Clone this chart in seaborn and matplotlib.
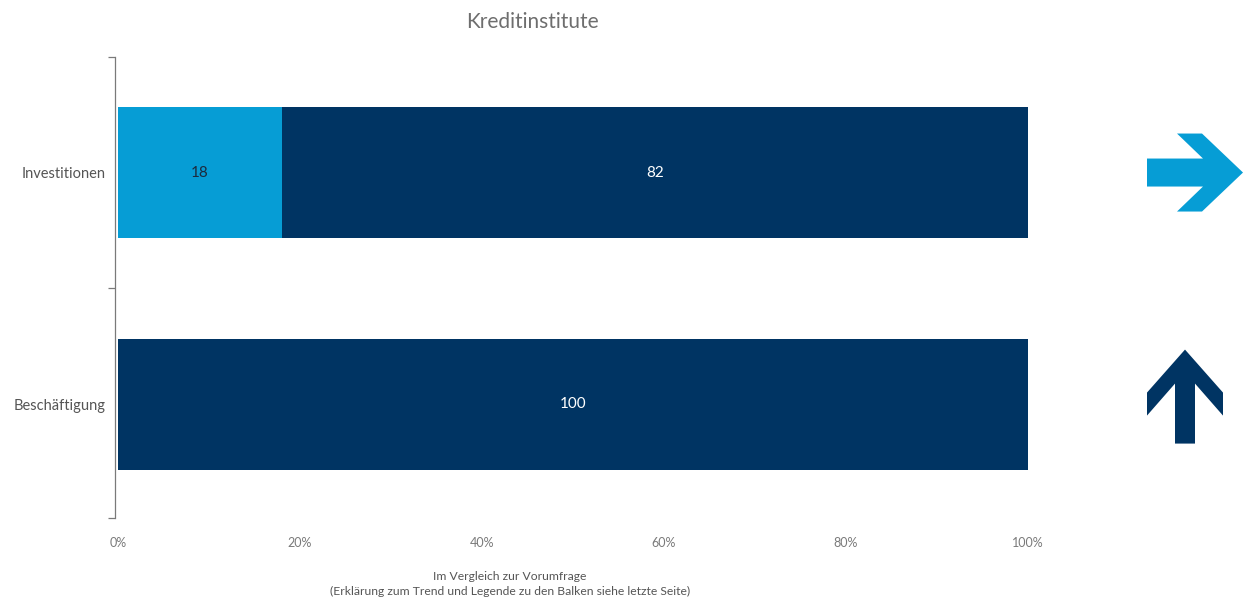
import matplotlib
matplotlib.use("Agg")
import matplotlib.pyplot as plt
import matplotlib.transforms as mtransforms
from matplotlib.patches import Polygon
from matplotlib.ticker import FixedLocator, FuncFormatter, NullFormatter
import seaborn as sns
import pandas as pd

# Data
categories = ["Investitionen", "Beschäftigung"]
light_share = [18, 0]
dark_share = [82, 100]
trend = ["right", "up"]
x_ticks = [0, 20, 40, 60, 80, 100]

LIGHT = "#069DD5"
DARK = "#003463"
GREY = "#7a7a7a"

sns.set_theme(style="white")
plt.rcParams["font.family"] = ["Lato", "DejaVu Sans"]

df = pd.DataFrame({
    "cat": categories,
    "light": light_share,
    "dark": dark_share,
})
df["total"] = df["light"] + df["dark"]

fig = plt.figure(figsize=(12.52, 6.06), dpi=100)
ax = fig.add_axes([118 / 1252, 1 - 518 / 606, 910 / 1252, 461 / 606])

bar_w = 0.566
sns.barplot(data=df, y="cat", x="total", orient="h", color=DARK,
            width=bar_w, saturation=1, ax=ax, order=categories, linewidth=0)
sns.barplot(data=df, y="cat", x="light", orient="h", color=LIGHT,
            width=bar_w, saturation=1, ax=ax, order=categories, linewidth=0)

# Segment values
for i, (lv, dv) in enumerate(zip(light_share, dark_share)):
    if lv > 0:
        ax.text(lv / 2, i, f"{lv}", ha="center", va="center",
                color="#1c2b3e", fontsize=11)
    if dv > 0:
        ax.text(lv + dv / 2, i, f"{dv}", ha="center", va="center",
                color="white", fontsize=11)

y_lo, y_hi = -0.499, 1.492
ax.set_xlim(0, 100)
ax.set_ylim(y_hi, y_lo)
ax.set_xlabel("")
ax.set_ylabel("")

# x axis: labels only
ax.xaxis.set_major_locator(FixedLocator(x_ticks))
ax.xaxis.set_major_formatter(FuncFormatter(lambda v, p: f"{v:.0f}%"))
ax.tick_params(axis="x", length=0, pad=14, labelsize=9, labelcolor=GREY)

# y axis: boundary ticks, labels at category centres
ax.yaxis.set_major_locator(FixedLocator([y_lo, 0.5, y_hi]))
ax.yaxis.set_major_formatter(NullFormatter())
ax.yaxis.set_minor_locator(FixedLocator([0, 1]))
ax.set_yticklabels(categories, minor=True)
ax.tick_params(axis="y", which="major", length=5, width=0.9, color=GREY, left=True)
ax.tick_params(axis="y", which="minor", length=0, pad=7, labelsize=10.5,
               labelcolor="#555555", left=True)

for s in ["top", "right", "bottom"]:
    ax.spines[s].set_visible(False)
ax.spines["left"].set_color(GREY)
ax.spines["left"].set_linewidth(0.9)
ax.spines["left"].set_position(("outward", 2.2))

# Trend arrows (pixel shapes anchored beside each category)
shapes = {
    "right": [(0, 14), (56, 14), (30, 39), (55, 39), (96, 0), (55, -39),
              (30, -39), (56, -14), (0, -14)],
    "up": [(38, 54.5), (76, 11.5), (76, -11.5), (48, 20.5), (48, -39.5),
           (28, -39.5), (28, 20.5), (0, -11.5), (0, 11.5)],
}
arrow_colors = {"right": LIGHT, "up": DARK}
anchor = mtransforms.blended_transform_factory(ax.transAxes, ax.transData)
for i, t in enumerate(trend):
    tr = mtransforms.ScaledTranslation(1029 / 910, i, anchor)
    poly = Polygon(shapes[t], closed=True, facecolor=arrow_colors[t],
                   edgecolor="none", transform=mtransforms.Affine2D() + tr,
                   clip_on=False)
    fig.add_artist(poly)

fig.text(532 / 1252, 1 - 22 / 606, "Kreditinstitute", ha="center", va="center",
         fontsize=15, color="#6e6e6e")
fig.text(510 / 1252, 1 - 576 / 606, "Im Vergleich zur Vorumfrage",
         ha="center", va="center", fontsize=8.7, color="#555555")
fig.text(510 / 1252, 1 - 591 / 606,
         "(Erklärung zum Trend und Legende zu den Balken siehe letzte Seite)",
         ha="center", va="center", fontsize=8.7, color="#555555")

fig.savefig("out.png", dpi=100)
